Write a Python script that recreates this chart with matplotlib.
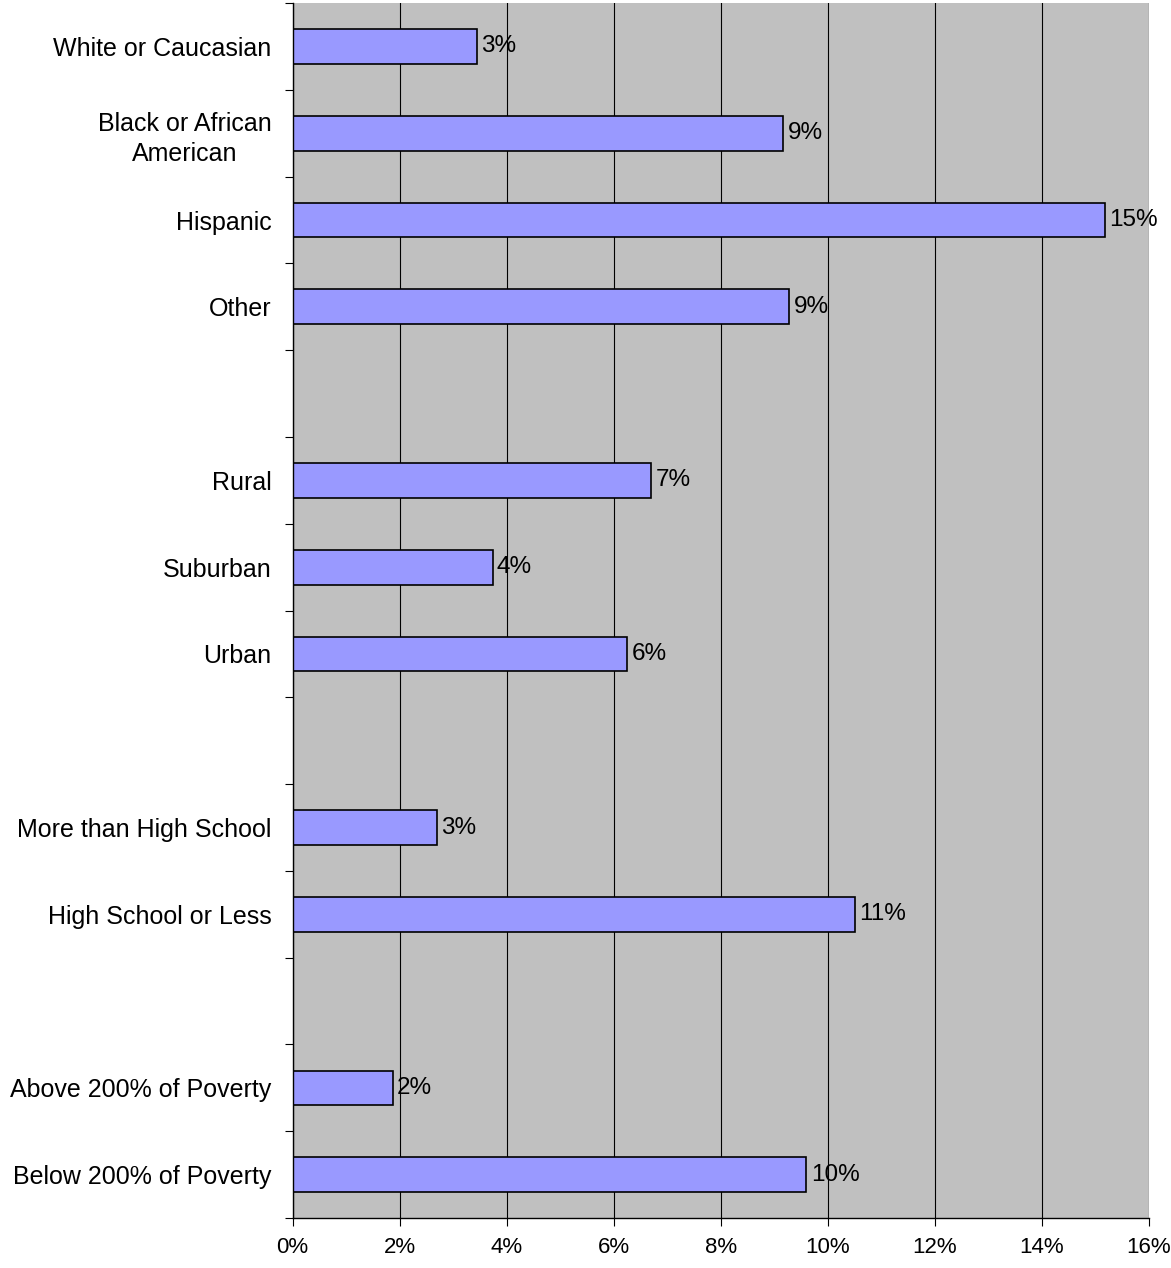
import numpy as np
import matplotlib.pyplot as plt

plt.rcParams["font.family"] = ["Liberation Sans", "DejaVu Sans"]

# categories from top to bottom; empty strings are the blank gaps between groups
categories = [
    "White or Caucasian", "Black or African\nAmerican", "Hispanic", "Other", "",
    "Rural", "Suburban", "Urban", "",
    "More than High School", "High School or Less", "",
    "Above 200% of Poverty", "Below 200% of Poverty",
]
values = [3.44, 9.17, 15.18, 9.28, None,
          6.70, 3.74, 6.25, None,
          2.69, 10.50, None,
          1.87, 9.60]
value_labels = ["3%", "9%", "15%", "9%", "",
                "7%", "4%", "6%", "",
                "3%", "11%", "",
                "2%", "10%"]
x_ticks = [0, 2, 4, 6, 8, 10, 12, 14, 16]

FS = 18

fig = plt.figure(figsize=(11.71, 12.68), dpi=100)
ax = fig.add_axes([0.2498, 0.0394, 0.7314, 0.9582])
ax.set_facecolor("#C0C0C0")

n = len(categories)
ys = np.arange(n)
for y, v, lab in zip(ys, values, value_labels):
    if v is None:
        continue
    ax.barh(y, v, height=0.4, color="#9999FF", edgecolor="black", linewidth=1.2, zorder=3)
    ax.text(v + 0.08, y, lab, va="center", ha="left", fontsize=17.5, zorder=4)

ax.set_ylim(n - 0.5, -0.5)
ax.set_xlim(0, 16)

# category ticks sit between slots, labels at slot centres
ax.set_yticks(np.arange(n + 1) - 0.5)
ax.set_yticklabels([])
ax.set_yticks(ys, minor=True)
ax.set_yticklabels(categories, minor=True, fontsize=FS, multialignment="center",
                   linespacing=1.35)
ax.tick_params(axis="y", which="minor", length=0, pad=15)
ax.tick_params(axis="y", which="major", length=6, width=0.8, direction="out")

ax.set_xticks(x_ticks)
ax.set_xticklabels([f"{t}%" for t in x_ticks], fontsize=16)
ax.tick_params(axis="x", length=6, width=0.8, direction="out", pad=8)

ax.grid(axis="x", color="black", linewidth=0.8, zorder=1)
ax.set_axisbelow(True)
for s in ["top", "right"]:
    ax.spines[s].set_visible(False)
for s in ["left", "bottom"]:
    ax.spines[s].set_linewidth(1.0)
    ax.spines[s].set_zorder(5)

fig.savefig("out.png", dpi=100)
